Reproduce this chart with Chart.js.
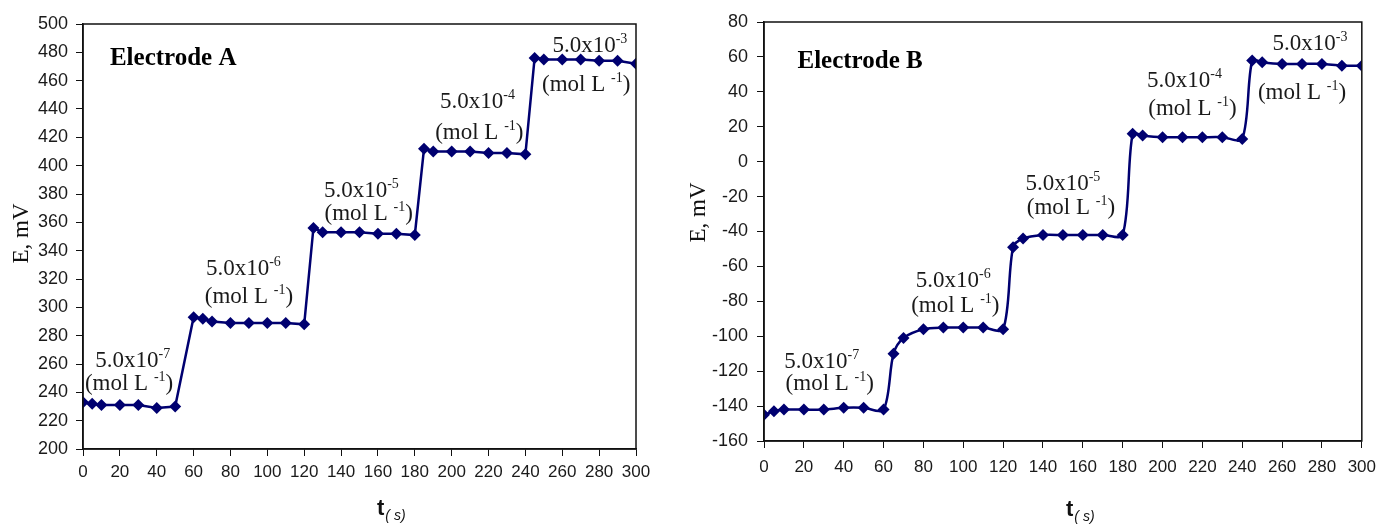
<!DOCTYPE html>
<html>

<head>
    <title>Electrode response time</title>
    <meta charset="utf-8" />
    <style>
        body { margin: 0; background: #fff; }
        .box { position: absolute; top: 0; height: 524px; }
    </style>
</head>

<body>
    <div class="box" style="left:0; width:680px;"><canvas id="chartA"></canvas></div>
    <div class="box" style="left:680px; width:705px;"><canvas id="chartB"></canvas></div>

    <script src="https://cdn.jsdelivr.net/npm/chart.js"></script>
    <script type="text/javascript">
        // time (s) and potential (mV)
        const timeA = [0, 5, 10, 20, 30, 40, 50, 60, 65, 70, 80, 90, 100, 110, 120, 125, 130, 140, 150, 160, 170, 180,
            185, 190, 200, 210, 220, 230, 240, 245, 250, 260, 270, 280, 290, 300];
        const potentialA = [233, 232, 231, 231, 231, 229, 230, 293, 292, 290, 289, 289, 289, 289, 288, 356, 353, 353, 353, 352, 352, 351,
            412, 410, 410, 410, 409, 409, 408, 476, 475, 475, 475, 474, 474, 472];

        const timeB = [0, 5, 10, 20, 30, 40, 50, 60, 65, 70, 80, 90, 100, 110, 120, 125, 130, 140, 150, 160, 170, 180,
            185, 190, 200, 210, 220, 230, 240, 245, 250, 260, 270, 280, 290, 300];
        const potentialB = [-145, -143, -142, -142, -142, -141, -141, -142, -110, -101, -96, -95, -95, -95, -96, -49, -44, -42, -42, -42, -42, -42,
            16, 15, 14, 14, 14, 14, 13, 58, 57, 56, 56, 56, 55, 55];

        // concentration steps
        const concBase = '5.0x10';
        const concExp = ['-7', '-6', '-5', '-4', '-3'];

        const navy = '#000070';
        const tickFont = { family: '"Liberation Sans", Arial, sans-serif', size: 18 };

        // draws a run of [text, superscript?] pieces centred on x
        function drawParts(ctx, parts, x, y) {
            const big = '23px "Liberation Serif", "Times New Roman", serif';
            const small = '14px "Liberation Serif", "Times New Roman", serif';
            let total = 0;
            parts.forEach(p => {
                ctx.font = p[1] ? small : big;
                total += ctx.measureText(p[0]).width;
            });
            let cx = x - total / 2;
            ctx.textAlign = 'left';
            parts.forEach(p => {
                ctx.font = p[1] ? small : big;
                ctx.fillText(p[0], cx, p[1] ? y - 9 : y);
                cx += ctx.measureText(p[0]).width;
            });
        }

        const decorPlugin = {
            id: 'decor',
            afterDraw(chart, args, opts) {
                const ctx = chart.ctx;
                const area = chart.chartArea;
                const xs = chart.scales.x;
                const ys = chart.scales.y;
                ctx.save();
                ctx.strokeStyle = '#111';
                ctx.lineWidth = 1.5;
                ctx.strokeRect(area.left, area.top, area.right - area.left, area.bottom - area.top);

                ctx.fillStyle = '#000';
                ctx.textBaseline = 'alphabetic';
                ctx.textAlign = 'left';
                ctx.font = 'bold 25px "Liberation Serif", "Times New Roman", serif';
                ctx.fillText(opts.name, xs.getPixelForValue(opts.nameAt[0]), ys.getPixelForValue(opts.nameAt[1]));

                ctx.fillStyle = '#1a1a1a';
                concExp.forEach((e, i) => {
                    const c = opts.concAt[i];
                    drawParts(ctx, [[concBase, false], [e, true]], xs.getPixelForValue(c[0]), ys.getPixelForValue(c[1]));
                    const u = opts.unitAt[i];
                    drawParts(ctx, [['(mol L ', false], ['-1', true], [')', false]], xs.getPixelForValue(u[0]), ys.getPixelForValue(u[1]));
                });

                // y title
                ctx.fillStyle = '#111';
                ctx.save();
                ctx.translate(area.left - opts.yTitle[0], (area.top + area.bottom) / 2 + opts.yTitle[1]);
                ctx.rotate(-Math.PI / 2);
                ctx.textAlign = 'center';
                ctx.font = '23px "Liberation Serif", "Times New Roman", serif';
                ctx.fillText('E, mV', 0, 0);
                ctx.restore();

                // x title
                const tx = area.left + opts.xTitle[0];
                const ty = area.bottom + opts.xTitle[1];
                ctx.textAlign = 'left';
                ctx.font = 'bold 22px "Liberation Sans", Arial, sans-serif';
                ctx.fillText('t', tx, ty);
                const w = ctx.measureText('t').width;
                ctx.font = 'italic 14px "Liberation Sans", Arial, sans-serif';
                ctx.fillText('( s)', tx + w + 1, ty + 5);
                ctx.restore();
            }
        };

        function makeChart(id, times, values, yMin, yMax, setup) {
            const points = times.map((t, i) => ({ x: t, y: values[i] }));
            return new Chart(document.getElementById(id), {
                type: 'line',
                data: {
                    datasets: [{
                        data: points,
                        borderColor: navy,
                        backgroundColor: navy,
                        borderWidth: 2.5,
                        tension: setup.tension,
                        pointStyle: 'rectRot',
                        pointRadius: 6,
                        pointBorderWidth: 0
                    }]
                },
                options: {
                    responsive: true,
                    maintainAspectRatio: false,
                    animation: false,
                    layout: { padding: setup.padding },
                    plugins: {
                        legend: { display: false },
                        tooltip: { enabled: false },
                        decor: setup.decor
                    },
                    scales: {
                        x: {
                            type: 'linear',
                            min: 0,
                            max: 300,
                            ticks: { stepSize: 20, color: '#1a1a1a', font: { family: tickFont.family, size: 17 }, padding: setup.xPad, maxRotation: 0 },
                            grid: { drawOnChartArea: false, tickLength: 7, color: '#111' },
                            border: { color: '#111', width: 1.5 },
                            afterFit: (scale) => { scale.height = setup.xHeight; }
                        },
                        y: {
                            min: yMin,
                            max: yMax,
                            ticks: { stepSize: 20, color: '#1a1a1a', font: tickFont, padding: setup.yPad },
                            grid: { drawOnChartArea: false, tickLength: 7, color: '#111' },
                            border: { color: '#111', width: 1.5 },
                            afterFit: (scale) => { scale.width = setup.yWidth; }
                        }
                    }
                },
                plugins: [decorPlugin]
            });
        }

        makeChart('chartA', timeA, potentialA, 200, 500, {
            tension: 0,
            padding: { top: 24, right: 44, left: 0, bottom: 0 },
            xHeight: 75,
            yWidth: 83,
            xPad: 6,
            yPad: 8,
            decor: {
                name: 'Electrode A',
                nameAt: [14.6, 471],
                concAt: [[27, 258], [87, 323], [151, 378], [214, 441], [275, 480]],
                unitAt: [[25, 242], [90, 303], [155, 362], [215, 419], [273, 453]],
                yTitle: [55, -3],
                xTitle: [294, 66]
            }
        });

        makeChart('chartB', timeB, potentialB, -160, 80, {
            tension: 0.3,
            padding: { top: 22, right: 14, left: 0, bottom: 0 },
            xHeight: 83,
            yWidth: 84,
            xPad: 9,
            yPad: 9,
            decor: {
                name: 'Electrode B',
                nameAt: [16.8, 53.7],
                concAt: [[29, -118], [95, -72], [150, -16], [211, 43], [274, 64]],
                unitAt: [[33, -131], [96, -86], [154, -30], [215, 27], [270, 36]],
                yTitle: [59, -19],
                xTitle: [302, 75]
            }
        });
    </script>
</body>

</html>
